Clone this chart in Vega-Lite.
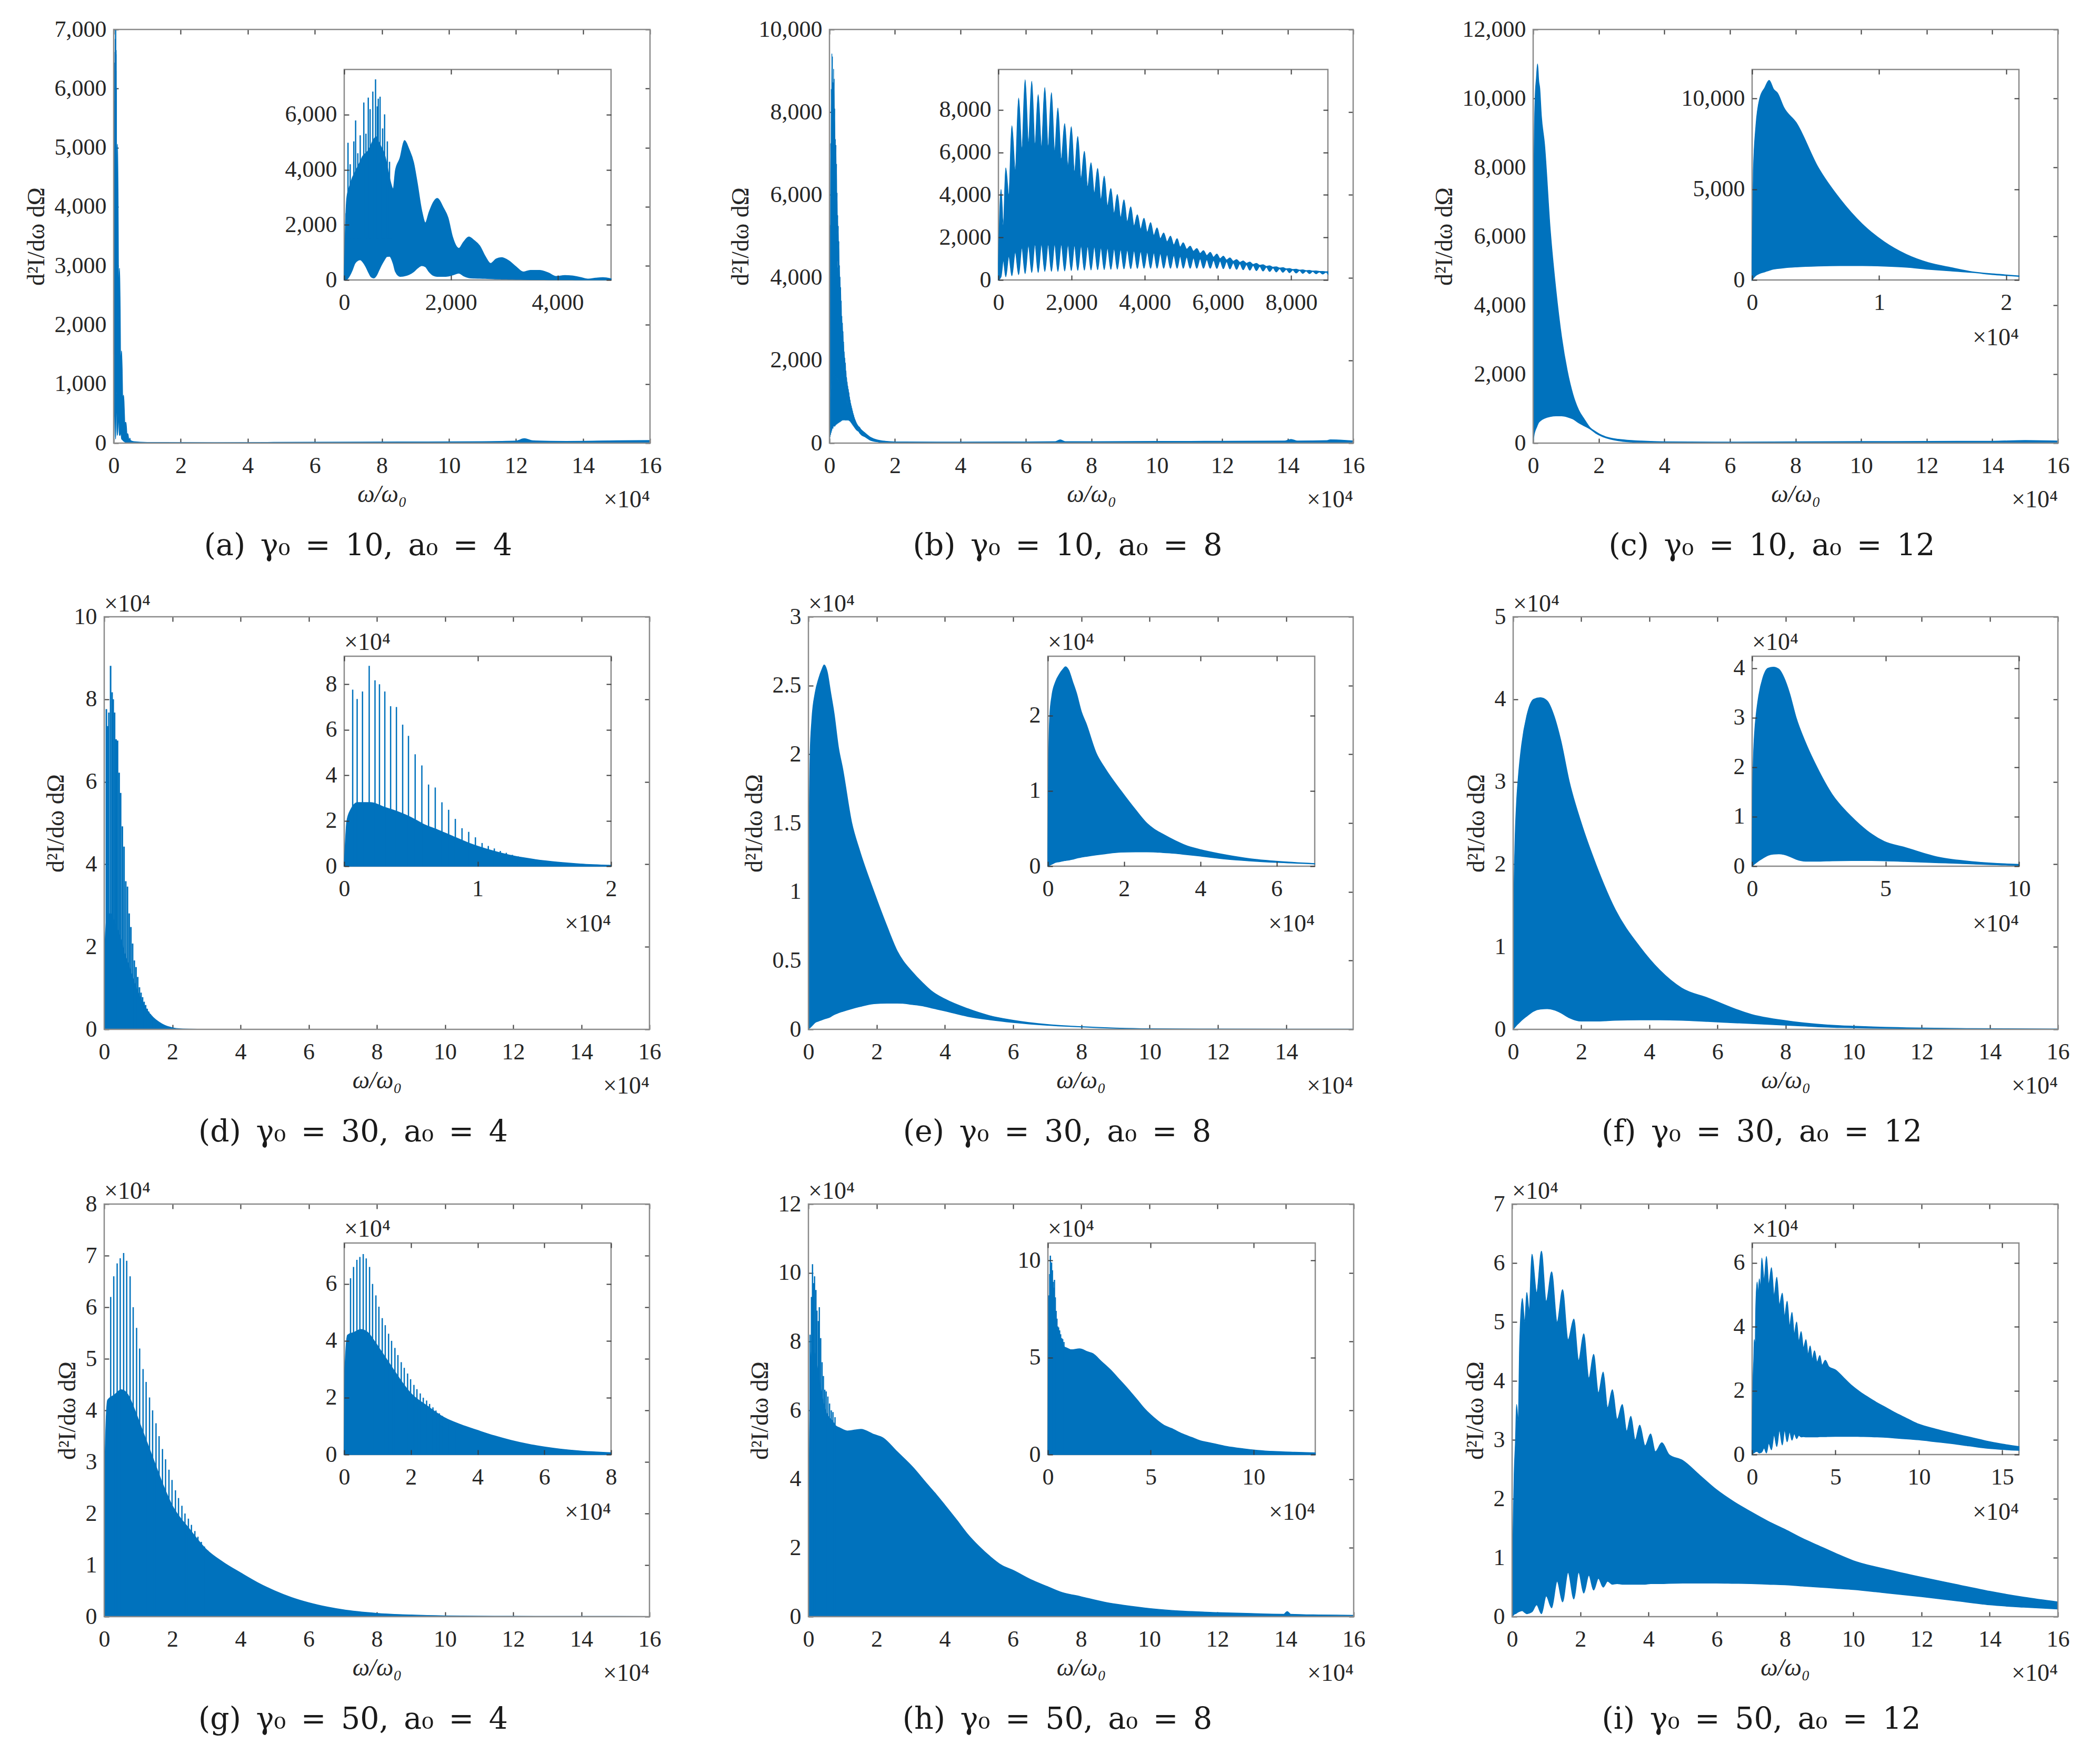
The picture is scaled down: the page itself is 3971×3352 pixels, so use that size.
{
  "$schema": "https://vega.github.io/schema/vega-lite/v6.json",
  "width": 3971,
  "height": 3352,
  "autosize": {"type": "none"},
  "padding": 0,
  "background": "white",
  "config": {
    "font": "Liberation Serif",
    "view": {"stroke": null},
    "axis": {"grid": false, "domain": false, "labelFont": "Liberation Serif", "labelFontSize": 44, "labelColor": "#262626", "titleFont": "Liberation Serif", "titleFontSize": 46, "titleFontWeight": "normal", "titleColor": "#262626", "tickColor": "#3a3a3a", "tickSize": -9, "tickWidth": 2, "labelFlush": false, "labelOverlap": false, "labelPadding": 30, "titlePadding": 10},
    "axisY": {"labelPadding": 23},
    "area": {"stroke": "#0072BD", "strokeWidth": 1.5},
    "text": {"font": "Liberation Serif", "fontSize": 46, "color": "#262626"}
  },
  "data": {"values": [{"k": 0}]},
  "datasets": {
    "a": [
      {"x":0,"hi":0,"lo":0},{"x":20,"hi":1800,"lo":0},{"x":50,"hi":3000,"lo":20},{"x":100,"hi":3400,"lo":150},{"x":150,"hi":3700,"lo":350},{"x":200,"hi":3900,"lo":600},{"x":250,"hi":4100,"lo":700},{"x":300,"hi":4300,"lo":730},{"x":350,"hi":4500,"lo":650},{"x":400,"hi":4600,"lo":500},{"x":450,"hi":4700,"lo":300},{"x":500,"hi":4900,"lo":120},{"x":550,"hi":5100,"lo":70},{"x":600,"hi":5200,"lo":150},{"x":650,"hi":5000,"lo":350},{"x":700,"hi":4800,"lo":550},{"x":750,"hi":4600,"lo":720},{"x":800,"hi":4200,"lo":850},{"x":850,"hi":3700,"lo":860},{"x":917,"hi":3310,"lo":600},{"x":960,"hi":3980,"lo":300},{"x":1045,"hi":4420,"lo":130},{"x":1130,"hi":5060,"lo":150},{"x":1215,"hi":4740,"lo":200},{"x":1300,"hi":4260,"lo":300},{"x":1368,"hi":3530,"lo":420},{"x":1453,"hi":2510,"lo":520},{"x":1521,"hi":2070,"lo":480},{"x":1589,"hi":2450,"lo":300},{"x":1673,"hi":2830,"lo":160},{"x":1741,"hi":2960,"lo":130},{"x":1860,"hi":2610,"lo":130},{"x":1945,"hi":2260,"lo":140},{"x":2030,"hi":1560,"lo":180},{"x":2149,"hi":1145,"lo":250},{"x":2234,"hi":1370,"lo":150},{"x":2335,"hi":1560,"lo":80},{"x":2437,"hi":1430,"lo":65},{"x":2539,"hi":1240,"lo":60},{"x":2641,"hi":860,"lo":55},{"x":2743,"hi":600,"lo":50},{"x":2845,"hi":760,"lo":40},{"x":2946,"hi":810,"lo":35},{"x":3082,"hi":700,"lo":30},{"x":3218,"hi":480,"lo":25},{"x":3354,"hi":290,"lo":20},{"x":3489,"hi":350,"lo":15},{"x":3659,"hi":350,"lo":15},{"x":3829,"hi":255,"lo":10},{"x":3965,"hi":130,"lo":10},{"x":4134,"hi":160,"lo":10},{"x":4270,"hi":150,"lo":8},{"x":4440,"hi":85,"lo":5},{"x":4576,"hi":35,"lo":5},{"x":4711,"hi":65,"lo":5},{"x":4847,"hi":85,"lo":5},{"x":5000,"hi":45,"lo":5},{"x":6000,"hi":25,"lo":0},{"x":10000,"hi":12,"lo":0},{"x":30000,"hi":10,"lo":0},{"x":60000,"hi":15,"lo":0},{"x":90000,"hi":20,"lo":0},{"x":110000,"hi":25,"lo":0},{"x":120000,"hi":35,"lo":0},{"x":122500,"hi":75,"lo":0},{"x":125000,"hi":40,"lo":0},{"x":135000,"hi":30,"lo":0},{"x":150000,"hi":40,"lo":0},{"x":160000,"hi":45,"lo":0}
    ],
    "a_spk": [
      {"x":34,"top":2420,"bot":1500},{"x":71,"top":4980,"bot":1500},{"x":112,"top":4200,"bot":1500},{"x":180,"top":5030,"bot":1500},{"x":214,"top":5790,"bot":1500},{"x":255,"top":4600,"bot":1500},{"x":300,"top":5250,"bot":1500},{"x":367,"top":6440,"bot":1500},{"x":407,"top":5310,"bot":1500},{"x":451,"top":6620,"bot":1500},{"x":485,"top":6200,"bot":1500},{"x":536,"top":6840,"bot":1500},{"x":587,"top":7280,"bot":1500},{"x":620,"top":6300,"bot":1500},{"x":638,"top":6580,"bot":1500},{"x":672,"top":6650,"bot":1500},{"x":720,"top":5500,"bot":1500},{"x":757,"top":6010,"bot":1500},{"x":808,"top":5030,"bot":1500},{"x":849,"top":4290,"bot":1500},{"x":876,"top":3470,"bot":1500}
    ],
    "b": [
      {"x":0,"hi":800,"lo":0},{"x":71,"hi":4260,"lo":150},{"x":135,"hi":2600,"lo":900},{"x":200,"hi":5270,"lo":150},{"x":284,"hi":4000,"lo":1100},{"x":367,"hi":7250,"lo":200},{"x":460,"hi":5200,"lo":1300},{"x":552,"hi":8560,"lo":250},{"x":640,"hi":6200,"lo":1500},{"x":729,"hi":9420,"lo":300},{"x":820,"hi":6500,"lo":1600},{"x":910,"hi":9350,"lo":350},{"x":998,"hi":6400,"lo":1650},{"x":1086,"hi":8720,"lo":350},{"x":1176,"hi":6300,"lo":1650},{"x":1267,"hi":9050,"lo":400},{"x":1358,"hi":6300,"lo":1650},{"x":1448,"hi":8810,"lo":400},{"x":1536,"hi":6100,"lo":1650},{"x":1624,"hi":8090,"lo":400},{"x":1717,"hi":5700,"lo":1650},{"x":1810,"hi":7350,"lo":420},{"x":1900,"hi":5400,"lo":1620},{"x":1990,"hi":7210,"lo":440},{"x":2078,"hi":5100,"lo":1600},{"x":2167,"hi":6750,"lo":450},{"x":2258,"hi":4800,"lo":1580},{"x":2348,"hi":6050,"lo":460},{"x":2438,"hi":4400,"lo":1560},{"x":2529,"hi":5510,"lo":470},{"x":2620,"hi":4100,"lo":1540},{"x":2710,"hi":5250,"lo":480},{"x":2800,"hi":3800,"lo":1500},{"x":2890,"hi":4880,"lo":490},{"x":2980,"hi":3500,"lo":1480},{"x":3071,"hi":4300,"lo":500},{"x":3160,"hi":3150,"lo":1450},{"x":3248,"hi":4020,"lo":510},{"x":3338,"hi":2950,"lo":1420},{"x":3429,"hi":3770,"lo":520},{"x":3520,"hi":2750,"lo":1390},{"x":3614,"hi":3440,"lo":530},{"x":3705,"hi":2550,"lo":1360},{"x":3795,"hi":3070,"lo":540},{"x":3885,"hi":2400,"lo":1330},{"x":3976,"hi":2905,"lo":550},{"x":4066,"hi":2250,"lo":1300},{"x":4157,"hi":2700,"lo":550},{"x":4245,"hi":2100,"lo":1270},{"x":4333,"hi":2450,"lo":550},{"x":4423,"hi":1950,"lo":1230},{"x":4514,"hi":2210,"lo":550},{"x":4607,"hi":1800,"lo":1190},{"x":4700,"hi":2060,"lo":550},{"x":4790,"hi":1650,"lo":1150},{"x":4881,"hi":1940,"lo":550},{"x":4965,"hi":1550,"lo":1110},{"x":5048,"hi":1750,"lo":550},{"x":5143,"hi":1450,"lo":1070},{"x":5238,"hi":1590,"lo":550},{"x":5328,"hi":1350,"lo":1030},{"x":5419,"hi":1480,"lo":550},{"x":5510,"hi":1250,"lo":990},{"x":5600,"hi":1380,"lo":550},{"x":5693,"hi":1150,"lo":950},{"x":5786,"hi":1300,"lo":550},{"x":5876,"hi":1070,"lo":920},{"x":5967,"hi":1220,"lo":540},{"x":6055,"hi":1000,"lo":890},{"x":6143,"hi":1120,"lo":530},{"x":6233,"hi":940,"lo":860},{"x":6324,"hi":1040,"lo":520},{"x":6415,"hi":880,"lo":800},{"x":6505,"hi":960,"lo":500},{"x":6595,"hi":830,"lo":760},{"x":6686,"hi":900,"lo":480},{"x":6776,"hi":780,"lo":720},{"x":6867,"hi":840,"lo":460},{"x":6957,"hi":730,"lo":680},{"x":7048,"hi":780,"lo":440},{"x":7138,"hi":690,"lo":640},{"x":7229,"hi":720,"lo":420},{"x":7320,"hi":640,"lo":600},{"x":7410,"hi":670,"lo":400},{"x":7500,"hi":600,"lo":560},{"x":7591,"hi":620,"lo":380},{"x":7680,"hi":560,"lo":530},{"x":7772,"hi":580,"lo":360},{"x":7862,"hi":525,"lo":500},{"x":7953,"hi":540,"lo":340},{"x":8043,"hi":495,"lo":470},{"x":8134,"hi":505,"lo":325},{"x":8225,"hi":465,"lo":445},{"x":8315,"hi":475,"lo":310},{"x":8405,"hi":440,"lo":420},{"x":8496,"hi":450,"lo":300},{"x":8586,"hi":420,"lo":400},{"x":8677,"hi":425,"lo":290},{"x":8767,"hi":400,"lo":380},{"x":8858,"hi":405,"lo":280},{"x":8950,"hi":385,"lo":365},{"x":9000,"hi":395,"lo":280},{"x":9500,"hi":340,"lo":220},{"x":10900,"hi":240,"lo":150},{"x":12500,"hi":140,"lo":70},{"x":15000,"hi":70,"lo":25},{"x":17000,"hi":45,"lo":0},{"x":20000,"hi":30,"lo":0},{"x":40000,"hi":25,"lo":0},{"x":60000,"hi":30,"lo":0},{"x":69000,"hi":35,"lo":0},{"x":70500,"hi":80,"lo":0},{"x":72000,"hi":35,"lo":0},{"x":100000,"hi":40,"lo":0},{"x":120000,"hi":45,"lo":0},{"x":139000,"hi":50,"lo":0},{"x":141000,"hi":90,"lo":0},{"x":143000,"hi":50,"lo":0},{"x":152000,"hi":60,"lo":0},{"x":153000,"hi":80,"lo":0},{"x":160000,"hi":55,"lo":0}
    ],
    "c": [
      {"x":0,"hi":1000,"lo":0},{"x":100,"hi":6000,"lo":100},{"x":300,"hi":8500,"lo":250},{"x":600,"hi":10000,"lo":360},{"x":1000,"hi":10600,"lo":450},{"x":1340,"hi":11000,"lo":530},{"x":1700,"hi":10500,"lo":600},{"x":2000,"hi":10300,"lo":630},{"x":2500,"hi":9500,"lo":670},{"x":3470,"hi":8670,"lo":720},{"x":5200,"hi":6200,"lo":770},{"x":6930,"hi":4450,"lo":790},{"x":8670,"hi":3080,"lo":790},{"x":10400,"hi":2100,"lo":760},{"x":12130,"hi":1410,"lo":700},{"x":13860,"hi":960,"lo":590},{"x":15600,"hi":690,"lo":500},{"x":17330,"hi":450,"lo":410},{"x":19060,"hi":330,"lo":290},{"x":21000,"hi":225,"lo":195},{"x":23000,"hi":160,"lo":130},{"x":26000,"hi":110,"lo":70},{"x":30000,"hi":75,"lo":30},{"x":33000,"hi":60,"lo":10},{"x":40000,"hi":40,"lo":0},{"x":60000,"hi":30,"lo":0},{"x":80000,"hi":40,"lo":0},{"x":100000,"hi":45,"lo":0},{"x":120000,"hi":50,"lo":0},{"x":140000,"hi":55,"lo":0},{"x":150000,"hi":75,"lo":0},{"x":160000,"hi":60,"lo":0}
    ],
    "d": [
      {"x":0,"hi":0,"lo":0},{"x":200,"hi":20000,"lo":0},{"x":500,"hi":25000,"lo":0},{"x":1000,"hi":28000,"lo":0},{"x":2000,"hi":28000,"lo":0},{"x":3000,"hi":26000,"lo":0},{"x":4000,"hi":24000,"lo":0},{"x":5000,"hi":21500,"lo":0},{"x":6000,"hi":18300,"lo":0},{"x":7000,"hi":16000,"lo":0},{"x":8000,"hi":13500,"lo":0},{"x":9330,"hi":10200,"lo":0},{"x":11000,"hi":7000,"lo":0},{"x":12700,"hi":4500,"lo":0},{"x":14350,"hi":2900,"lo":0},{"x":16000,"hi":1800,"lo":0},{"x":17690,"hi":1000,"lo":0},{"x":20000,"hi":400,"lo":0},{"x":22000,"hi":150,"lo":0},{"x":25000,"hi":60,"lo":0},{"x":30000,"hi":20,"lo":0},{"x":50000,"hi":8,"lo":0},{"x":160000,"hi":5,"lo":0}
    ],
    "d_spk": [
      {"x":635,"top":77600,"bot":0},{"x":970,"top":73500,"bot":0},{"x":1371,"top":76800,"bot":0},{"x":1873,"top":88100,"bot":0},{"x":2308,"top":81700,"bot":0},{"x":2642,"top":80000,"bot":0},{"x":3043,"top":76800,"bot":0},{"x":3478,"top":70300,"bot":0},{"x":3913,"top":70000,"bot":0},{"x":4381,"top":62200,"bot":0},{"x":4816,"top":57300,"bot":0},{"x":5318,"top":49200,"bot":0},{"x":5819,"top":44300,"bot":0},{"x":6321,"top":35900,"bot":0},{"x":6823,"top":34600,"bot":0},{"x":7324,"top":28100,"bot":0},{"x":7826,"top":24800,"bot":0},{"x":8328,"top":20800,"bot":0},{"x":8829,"top":16700,"bot":0},{"x":9331,"top":15100,"bot":0},{"x":9833,"top":12700,"bot":0},{"x":10334,"top":10200,"bot":0},{"x":10800,"top":8900,"bot":0},{"x":11250,"top":7800,"bot":0},{"x":11700,"top":6700,"bot":0},{"x":12150,"top":5900,"bot":0},{"x":12600,"top":5000,"bot":0},{"x":13050,"top":4300,"bot":0},{"x":13500,"top":3700,"bot":0},{"x":13950,"top":3200,"bot":0},{"x":14400,"top":2800,"bot":0},{"x":14850,"top":2400,"bot":0},{"x":15300,"top":2100,"bot":0},{"x":15750,"top":1800,"bot":0},{"x":16200,"top":1500,"bot":0},{"x":16650,"top":1300,"bot":0},{"x":17100,"top":1100,"bot":0},{"x":17550,"top":1000,"bot":0},{"x":18000,"top":850,"bot":0},{"x":18450,"top":750,"bot":0},{"x":18900,"top":650,"bot":0},{"x":19350,"top":550,"bot":0},{"x":19800,"top":500,"bot":0}
    ],
    "e": [
      {"x":0,"hi":2000,"lo":0},{"x":200,"hi":14000,"lo":60},{"x":500,"hi":20000,"lo":130},{"x":1000,"hi":22500,"lo":250},{"x":2000,"hi":24500,"lo":500},{"x":3000,"hi":25500,"lo":600},{"x":4000,"hi":26200,"lo":700},{"x":4600,"hi":26500,"lo":750},{"x":5500,"hi":26000,"lo":820},{"x":6500,"hi":24500,"lo":920},{"x":7500,"hi":23000,"lo":1070},{"x":8800,"hi":20500,"lo":1200},{"x":10000,"hi":19000,"lo":1300},{"x":12700,"hi":15000,"lo":1500},{"x":15000,"hi":13000,"lo":1650},{"x":19200,"hi":10000,"lo":1870},{"x":23000,"hi":7500,"lo":1900},{"x":26000,"hi":5700,"lo":1900},{"x":27700,"hi":5000,"lo":1890},{"x":30000,"hi":4300,"lo":1820},{"x":33600,"hi":3350,"lo":1700},{"x":36000,"hi":2800,"lo":1560},{"x":40000,"hi":2200,"lo":1340},{"x":46700,"hi":1500,"lo":940},{"x":53000,"hi":1000,"lo":700},{"x":60000,"hi":660,"lo":500},{"x":70000,"hi":350,"lo":300},{"x":80000,"hi":200,"lo":170},{"x":90000,"hi":100,"lo":80},{"x":100000,"hi":50,"lo":40},{"x":120000,"hi":30,"lo":20},{"x":159600,"hi":20,"lo":10}
    ],
    "f": [
      {"x":0,"hi":0,"lo":0},{"x":200,"hi":15000,"lo":100},{"x":500,"hi":22000,"lo":250},{"x":1000,"hi":27500,"lo":500},{"x":1500,"hi":30500,"lo":700},{"x":2500,"hi":34500,"lo":1100},{"x":4000,"hi":38000,"lo":1600},{"x":6000,"hi":40000,"lo":2200},{"x":8000,"hi":40200,"lo":2450},{"x":10000,"hi":39800,"lo":2500},{"x":12000,"hi":38000,"lo":2350},{"x":14000,"hi":35000,"lo":2000},{"x":16500,"hi":30000,"lo":1400},{"x":20000,"hi":25000,"lo":1000},{"x":24300,"hi":20000,"lo":1000},{"x":30000,"hi":14500,"lo":1100},{"x":37200,"hi":10000,"lo":1150},{"x":43000,"hi":7200,"lo":1150},{"x":49500,"hi":5000,"lo":1100},{"x":57200,"hi":3800,"lo":950},{"x":70000,"hi":1800,"lo":700},{"x":83000,"hi":900,"lo":450},{"x":96000,"hi":450,"lo":220},{"x":100000,"hi":380,"lo":190},{"x":109000,"hi":250,"lo":120},{"x":135000,"hi":100,"lo":50},{"x":160000,"hi":50,"lo":25}
    ],
    "g": [
      {"x":0,"hi":0,"lo":0},{"x":200,"hi":30000,"lo":0},{"x":1000,"hi":42000,"lo":0},{"x":3000,"hi":43000,"lo":0},{"x":5000,"hi":44000,"lo":0},{"x":7000,"hi":43000,"lo":0},{"x":9000,"hi":40000,"lo":0},{"x":11000,"hi":36500,"lo":0},{"x":13000,"hi":33000,"lo":0},{"x":15000,"hi":29500,"lo":0},{"x":17000,"hi":26000,"lo":0},{"x":20000,"hi":21500,"lo":0},{"x":25000,"hi":17000,"lo":0},{"x":30000,"hi":13000,"lo":0},{"x":35000,"hi":10500,"lo":0},{"x":40000,"hi":8500,"lo":0},{"x":45000,"hi":6600,"lo":0},{"x":50000,"hi":5000,"lo":0},{"x":55000,"hi":3700,"lo":0},{"x":60000,"hi":2700,"lo":0},{"x":70000,"hi":1350,"lo":0},{"x":80000,"hi":650,"lo":0},{"x":90000,"hi":320,"lo":0},{"x":100000,"hi":160,"lo":0},{"x":120000,"hi":70,"lo":0},{"x":140000,"hi":45,"lo":0},{"x":160000,"hi":35,"lo":0}
    ],
    "g_spk": [
      {"x":900,"top":31000,"bot":0},{"x":1900,"top":62000,"bot":0},{"x":2800,"top":66000,"bot":0},{"x":3800,"top":68500,"bot":0},{"x":4700,"top":69500,"bot":0},{"x":5700,"top":70500,"bot":0},{"x":6600,"top":69000,"bot":0},{"x":7600,"top":66000,"bot":0},{"x":8500,"top":60000,"bot":0},{"x":9500,"top":56000,"bot":0},{"x":10400,"top":52000,"bot":0},{"x":11400,"top":48000,"bot":0},{"x":12300,"top":45500,"bot":0},{"x":13300,"top":42500,"bot":0},{"x":14200,"top":40000,"bot":0},{"x":15200,"top":37500,"bot":0},{"x":16100,"top":35000,"bot":0},{"x":17100,"top":32500,"bot":0},{"x":18000,"top":30500,"bot":0},{"x":19000,"top":28500,"bot":0},{"x":19900,"top":26500,"bot":0},{"x":20900,"top":24500,"bot":0},{"x":21800,"top":23000,"bot":0},{"x":22800,"top":21500,"bot":0},{"x":23700,"top":20000,"bot":0},{"x":24700,"top":19000,"bot":0},{"x":25600,"top":17800,"bot":0},{"x":26600,"top":16600,"bot":0},{"x":27500,"top":15500,"bot":0},{"x":28500,"top":14500,"bot":0},{"x":29400,"top":13600,"bot":0},{"x":30400,"top":12800,"bot":0},{"x":31300,"top":12000,"bot":0},{"x":32300,"top":11200,"bot":0},{"x":33200,"top":10600,"bot":0}
    ],
    "h": [
      {"x":0,"hi":0,"lo":0},{"x":200,"hi":40000,"lo":0},{"x":500,"hi":70000,"lo":0},{"x":1000,"hi":78000,"lo":0},{"x":2000,"hi":76000,"lo":0},{"x":3000,"hi":70000,"lo":0},{"x":4000,"hi":64000,"lo":0},{"x":5000,"hi":60000,"lo":0},{"x":6000,"hi":58000,"lo":0},{"x":7000,"hi":57000,"lo":0},{"x":8000,"hi":55500,"lo":0},{"x":9000,"hi":55000,"lo":0},{"x":11400,"hi":54000,"lo":0},{"x":15400,"hi":54500,"lo":0},{"x":19200,"hi":53000,"lo":0},{"x":21900,"hi":52000,"lo":0},{"x":26000,"hi":48000,"lo":0},{"x":30600,"hi":43500,"lo":0},{"x":34900,"hi":38500,"lo":0},{"x":37100,"hi":36000,"lo":0},{"x":40000,"hi":32500,"lo":0},{"x":43600,"hi":28000,"lo":0},{"x":46700,"hi":24000,"lo":0},{"x":50000,"hi":20500,"lo":0},{"x":53300,"hi":17500,"lo":0},{"x":56600,"hi":15000,"lo":0},{"x":60000,"hi":13500,"lo":0},{"x":65200,"hi":10800,"lo":0},{"x":70000,"hi":8800,"lo":0},{"x":73900,"hi":7200,"lo":0},{"x":80000,"hi":5800,"lo":0},{"x":86900,"hi":4200,"lo":0},{"x":95000,"hi":3000,"lo":0},{"x":102000,"hi":2200,"lo":0},{"x":110000,"hi":1600,"lo":0},{"x":120000,"hi":1200,"lo":0},{"x":130000,"hi":900,"lo":0},{"x":139500,"hi":700,"lo":0},{"x":140500,"hi":1500,"lo":0},{"x":141500,"hi":700,"lo":0},{"x":150000,"hi":500,"lo":0},{"x":160000,"hi":400,"lo":0}
    ],
    "h_spk": [
      {"x":500,"top":82000,"bot":0},{"x":900,"top":93000,"bot":0},{"x":1200,"top":102500,"bot":0},{"x":1500,"top":97000,"bot":0},{"x":1800,"top":99000,"bot":0},{"x":2200,"top":95000,"bot":0},{"x":2500,"top":89000,"bot":0},{"x":2900,"top":86000,"bot":0},{"x":3200,"top":90000,"bot":0},{"x":3600,"top":81000,"bot":0},{"x":4000,"top":74000,"bot":0},{"x":4400,"top":70000,"bot":0},{"x":4800,"top":66000,"bot":0},{"x":5200,"top":65500,"bot":0},{"x":5700,"top":64000,"bot":0},{"x":6200,"top":62000,"bot":0},{"x":6700,"top":60000,"bot":0},{"x":7200,"top":59500,"bot":0},{"x":7800,"top":58000,"bot":0}
    ],
    "i": [
      {"x":0,"hi":3000,"lo":0},{"x":300,"hi":15000,"lo":200},{"x":600,"hi":24000,"lo":400},{"x":1000,"hi":30000,"lo":500},{"x":1300,"hi":36000,"lo":600},{"x":1800,"hi":33000,"lo":800},{"x":2200,"hi":46000,"lo":900},{"x":3000,"hi":54000,"lo":1000},{"x":3700,"hi":50000,"lo":700},{"x":4300,"hi":55000,"lo":500},{"x":5000,"hi":52000,"lo":600},{"x":5800,"hi":61500,"lo":800},{"x":7200,"hi":55000,"lo":2000},{"x":8600,"hi":62000,"lo":500},{"x":10000,"hi":53500,"lo":3500},{"x":11600,"hi":58500,"lo":1500},{"x":13200,"hi":50000,"lo":6000},{"x":14800,"hi":55500,"lo":2500},{"x":16400,"hi":47000,"lo":7500},{"x":18100,"hi":50500,"lo":3000},{"x":19500,"hi":43500,"lo":7500},{"x":21000,"hi":48000,"lo":4000},{"x":22500,"hi":40500,"lo":7000},{"x":23900,"hi":44500,"lo":4500},{"x":25300,"hi":38000,"lo":6500},{"x":26700,"hi":41500,"lo":5000},{"x":28000,"hi":35500,"lo":6000},{"x":29400,"hi":38500,"lo":5500},{"x":30800,"hi":33500,"lo":5600},{"x":32300,"hi":36000,"lo":5500},{"x":33600,"hi":31500,"lo":5500},{"x":34800,"hi":34000,"lo":5500},{"x":36100,"hi":30000,"lo":5500},{"x":37400,"hi":32500,"lo":5500},{"x":39000,"hi":29000,"lo":5500},{"x":40600,"hi":31000,"lo":5600},{"x":42000,"hi":28000,"lo":5600},{"x":43900,"hi":29500,"lo":5600},{"x":46000,"hi":27500,"lo":5650},{"x":50000,"hi":26500,"lo":5700},{"x":55000,"hi":24000,"lo":5700},{"x":60000,"hi":21500,"lo":5700},{"x":65000,"hi":19500,"lo":5650},{"x":70000,"hi":17800,"lo":5600},{"x":75000,"hi":16200,"lo":5500},{"x":80000,"hi":14800,"lo":5400},{"x":85000,"hi":13300,"lo":5200},{"x":90000,"hi":12000,"lo":5000},{"x":95000,"hi":10700,"lo":4800},{"x":100000,"hi":9500,"lo":4600},{"x":110000,"hi":8000,"lo":4000},{"x":120000,"hi":6700,"lo":3400},{"x":130000,"hi":5500,"lo":2700},{"x":140000,"hi":4300,"lo":2000},{"x":150000,"hi":3300,"lo":1600},{"x":160000,"hi":2500,"lo":1300}
    ]
  },
  "resolve": {"scale": {"x": "independent", "y": "independent"}, "axis": {"x": "independent", "y": "independent"}},
  "layer": [
    {"data": {"name": "a"}, "mark": {"type": "area", "color": "#0072BD", "stroke": "#0072BD", "strokeWidth": 1.5, "interpolate": "monotone"},
     "encoding": {
       "x": {"field": "x", "type": "quantitative", "scale": {"domain": [0, 160000], "range": [216, 1235], "nice": false}, "axis": {"orient": "bottom", "offset": -2510, "values": [0,20000,40000,60000,80000,100000,120000,140000,160000], "labelExpr": "datum.value / 10000", "title": "ω/ω₀", "titleFontStyle": "italic"}},
       "y": {"field": "hi", "type": "quantitative", "scale": {"domain": [0, 7000], "range": [842, 56], "nice": false, "clamp": true}, "axis": {"orient": "left", "offset": -216, "values": [0,1000,2000,3000,4000,5000,6000,7000], "labelExpr": "format(datum.value, ',')", "title": "d²I/dω dΩ"}},
       "y2": {"field": "lo"}}},
    {"data": {"name": "a_spk"}, "mark": {"type": "rule", "color": "#0072BD", "strokeWidth": 2.5},
     "encoding": {
       "x": {"field": "x", "type": "quantitative", "scale": {"domain": [0, 160000], "range": [216, 1235], "nice": false}, "axis": null},
       "y": {"field": "top", "type": "quantitative", "scale": {"domain": [0, 7000], "range": [842, 56], "nice": false, "clamp": true}, "axis": null},
       "y2": {"field": "bot"}}},
    {"mark": {"type": "rect", "fillOpacity": 0, "stroke": "#8a8a8a", "strokeWidth": 2.5},
     "encoding": {
       "x": {"datum": 0, "type": "quantitative", "scale": {"domain": [0, 160000], "range": [216, 1235], "nice": false}, "axis": {"orient": "top", "offset": -56, "values": [0,20000,40000,60000,80000,100000,120000,140000,160000], "labels": false, "title": null}},
       "x2": {"datum": 160000},
       "y": {"datum": 0, "type": "quantitative", "scale": {"domain": [0, 7000], "range": [842, 56], "nice": false}, "axis": {"orient": "right", "offset": -2736, "values": [0,1000,2000,3000,4000,5000,6000,7000], "labels": false, "title": null}},
       "y2": {"datum": 7000}}},
    {"mark": {"type": "text", "text": "×10⁴", "font": "Liberation Serif", "fontSize": 46, "align": "right", "baseline": "middle", "dy": 108},
     "encoding": {
       "x": {"datum": 160000, "type": "quantitative", "scale": {"domain": [0, 160000], "range": [216, 1235], "nice": false}, "axis": null},
       "y": {"datum": 0, "type": "quantitative", "scale": {"domain": [0, 7000], "range": [842, 56], "nice": false}, "axis": null}}},
    {"mark": {"type": "text", "text": "(a)\u2002γ₀\u2002=\u200210,\u2002a₀\u2002=\u20024", "font": "DejaVu Serif", "fontSize": 57, "color": "#1a1a1a", "align": "center", "baseline": "middle", "dx": -45, "dy": 196},
     "encoding": {
       "x": {"datum": 80000, "type": "quantitative", "scale": {"domain": [0, 160000], "range": [216, 1235], "nice": false}, "axis": null},
       "y": {"datum": 0, "type": "quantitative", "scale": {"domain": [0, 7000], "range": [842, 56], "nice": false}, "axis": null}}},
    {"mark": {"type": "rect", "fill": "white", "stroke": "#8a8a8a", "strokeWidth": 2.5},
     "encoding": {
       "x": {"datum": 0, "type": "quantitative", "scale": {"domain": [0, 5000], "range": [654, 1161], "nice": false}, "axis": {"orient": "bottom", "offset": -2820, "values": [0,2000,4000], "labelExpr": "format(datum.value, ',')", "title": null, "zindex": 1}},
       "x2": {"datum": 5000},
       "y": {"datum": 0, "type": "quantitative", "scale": {"domain": [0, 7640], "range": [532, 132], "nice": false}, "axis": {"orient": "left", "offset": -654, "values": [0,2000,4000,6000], "labelExpr": "format(datum.value, ',')", "title": null, "zindex": 1}},
       "y2": {"datum": 7640}}},
    {"data": {"name": "a"}, "transform": [{"filter": "datum.x <= 5000"}], "mark": {"type": "area", "color": "#0072BD", "stroke": "#0072BD", "strokeWidth": 1.5, "interpolate": "monotone"},
     "encoding": {
       "x": {"field": "x", "type": "quantitative", "scale": {"domain": [0, 5000], "range": [654, 1161], "nice": false}, "axis": {"orient": "top", "offset": -132, "values": [0,2000,4000], "labels": false, "title": null, "zindex": 1}},
       "y": {"field": "hi", "type": "quantitative", "scale": {"domain": [0, 7640], "range": [532, 132], "nice": false}, "axis": {"orient": "right", "offset": -2810, "values": [0,2000,4000,6000], "labels": false, "title": null, "zindex": 1}},
       "y2": {"field": "lo"}}},
    {"data": {"name": "a_spk"}, "mark": {"type": "rule", "color": "#0072BD", "strokeWidth": 2.5},
     "encoding": {
       "x": {"field": "x", "type": "quantitative", "scale": {"domain": [0, 5000], "range": [654, 1161], "nice": false}, "axis": null},
       "y": {"field": "top", "type": "quantitative", "scale": {"domain": [0, 7640], "range": [532, 132], "nice": false}, "axis": null},
       "y2": {"field": "bot"}}},

    {"data": {"name": "b"}, "mark": {"type": "area", "color": "#0072BD", "stroke": "#0072BD", "strokeWidth": 1.5, "interpolate": "monotone"},
     "encoding": {
       "x": {"field": "x", "type": "quantitative", "scale": {"domain": [0, 160000], "range": [1576, 2571], "nice": false}, "axis": {"orient": "bottom", "offset": -2510, "values": [0,20000,40000,60000,80000,100000,120000,140000,160000], "labelExpr": "datum.value / 10000", "title": "ω/ω₀", "titleFontStyle": "italic"}},
       "y": {"field": "hi", "type": "quantitative", "scale": {"domain": [0, 10000], "range": [842, 56], "nice": false, "clamp": true}, "axis": {"orient": "left", "offset": -1576, "values": [0,2000,4000,6000,8000,10000], "labelExpr": "format(datum.value, ',')", "title": "d²I/dω dΩ"}},
       "y2": {"field": "lo"}}},
    {"mark": {"type": "rect", "fillOpacity": 0, "stroke": "#8a8a8a", "strokeWidth": 2.5},
     "encoding": {
       "x": {"datum": 0, "type": "quantitative", "scale": {"domain": [0, 160000], "range": [1576, 2571], "nice": false}, "axis": {"orient": "top", "offset": -56, "values": [0,20000,40000,60000,80000,100000,120000,140000,160000], "labels": false, "title": null}},
       "x2": {"datum": 160000},
       "y": {"datum": 0, "type": "quantitative", "scale": {"domain": [0, 10000], "range": [842, 56], "nice": false}, "axis": {"orient": "right", "offset": -1400, "values": [0,2000,4000,6000,8000,10000], "labels": false, "title": null}},
       "y2": {"datum": 10000}}},
    {"mark": {"type": "text", "text": "×10⁴", "font": "Liberation Serif", "fontSize": 46, "align": "right", "baseline": "middle", "dy": 108},
     "encoding": {
       "x": {"datum": 160000, "type": "quantitative", "scale": {"domain": [0, 160000], "range": [1576, 2571], "nice": false}, "axis": null},
       "y": {"datum": 0, "type": "quantitative", "scale": {"domain": [0, 10000], "range": [842, 56], "nice": false}, "axis": null}}},
    {"mark": {"type": "text", "text": "(b)\u2002γ₀\u2002=\u200210,\u2002a₀\u2002=\u20028", "font": "DejaVu Serif", "fontSize": 57, "color": "#1a1a1a", "align": "center", "baseline": "middle", "dx": -45, "dy": 196},
     "encoding": {
       "x": {"datum": 80000, "type": "quantitative", "scale": {"domain": [0, 160000], "range": [1576, 2571], "nice": false}, "axis": null},
       "y": {"datum": 0, "type": "quantitative", "scale": {"domain": [0, 10000], "range": [842, 56], "nice": false}, "axis": null}}},
    {"mark": {"type": "rect", "fill": "white", "stroke": "#8a8a8a", "strokeWidth": 2.5},
     "encoding": {
       "x": {"datum": 0, "type": "quantitative", "scale": {"domain": [0, 9000], "range": [1897, 2523], "nice": false}, "axis": {"orient": "bottom", "offset": -2820, "values": [0,2000,4000,6000,8000], "labelExpr": "format(datum.value, ',')", "title": null, "zindex": 1}},
       "x2": {"datum": 9000},
       "y": {"datum": 0, "type": "quantitative", "scale": {"domain": [0, 9900], "range": [532, 132], "nice": false}, "axis": {"orient": "left", "offset": -1897, "values": [0,2000,4000,6000,8000], "labelExpr": "format(datum.value, ',')", "title": null, "zindex": 1}},
       "y2": {"datum": 9900}}},
    {"data": {"name": "b"}, "transform": [{"filter": "datum.x <= 9000"}], "mark": {"type": "area", "color": "#0072BD", "stroke": "#0072BD", "strokeWidth": 1.5, "interpolate": "monotone"},
     "encoding": {
       "x": {"field": "x", "type": "quantitative", "scale": {"domain": [0, 9000], "range": [1897, 2523], "nice": false}, "axis": {"orient": "top", "offset": -132, "values": [0,2000,4000,6000,8000], "labels": false, "title": null, "zindex": 1}},
       "y": {"field": "hi", "type": "quantitative", "scale": {"domain": [0, 9900], "range": [532, 132], "nice": false}, "axis": {"orient": "right", "offset": -1448, "values": [0,2000,4000,6000,8000], "labels": false, "title": null, "zindex": 1}},
       "y2": {"field": "lo"}}},

    {"data": {"name": "c"}, "mark": {"type": "area", "color": "#0072BD", "stroke": "#0072BD", "strokeWidth": 1.5, "interpolate": "monotone"},
     "encoding": {
       "x": {"field": "x", "type": "quantitative", "scale": {"domain": [0, 160000], "range": [2913, 3910], "nice": false}, "axis": {"orient": "bottom", "offset": -2510, "values": [0,20000,40000,60000,80000,100000,120000,140000,160000], "labelExpr": "datum.value / 10000", "title": "ω/ω₀", "titleFontStyle": "italic"}},
       "y": {"field": "hi", "type": "quantitative", "scale": {"domain": [0, 12000], "range": [842, 56], "nice": false, "clamp": true}, "axis": {"orient": "left", "offset": -2913, "values": [0,2000,4000,6000,8000,10000,12000], "labelExpr": "format(datum.value, ',')", "title": "d²I/dω dΩ"}},
       "y2": {"field": "lo"}}},
    {"mark": {"type": "rect", "fillOpacity": 0, "stroke": "#8a8a8a", "strokeWidth": 2.5},
     "encoding": {
       "x": {"datum": 0, "type": "quantitative", "scale": {"domain": [0, 160000], "range": [2913, 3910], "nice": false}, "axis": {"orient": "top", "offset": -56, "values": [0,20000,40000,60000,80000,100000,120000,140000,160000], "labels": false, "title": null}},
       "x2": {"datum": 160000},
       "y": {"datum": 0, "type": "quantitative", "scale": {"domain": [0, 12000], "range": [842, 56], "nice": false}, "axis": {"orient": "right", "offset": -61, "values": [0,2000,4000,6000,8000,10000,12000], "labels": false, "title": null}},
       "y2": {"datum": 12000}}},
    {"mark": {"type": "text", "text": "×10⁴", "font": "Liberation Serif", "fontSize": 46, "align": "right", "baseline": "middle", "dy": 108},
     "encoding": {
       "x": {"datum": 160000, "type": "quantitative", "scale": {"domain": [0, 160000], "range": [2913, 3910], "nice": false}, "axis": null},
       "y": {"datum": 0, "type": "quantitative", "scale": {"domain": [0, 12000], "range": [842, 56], "nice": false}, "axis": null}}},
    {"mark": {"type": "text", "text": "(c)\u2002γ₀\u2002=\u200210,\u2002a₀\u2002=\u200212", "font": "DejaVu Serif", "fontSize": 57, "color": "#1a1a1a", "align": "center", "baseline": "middle", "dx": -45, "dy": 196},
     "encoding": {
       "x": {"datum": 80000, "type": "quantitative", "scale": {"domain": [0, 160000], "range": [2913, 3910], "nice": false}, "axis": null},
       "y": {"datum": 0, "type": "quantitative", "scale": {"domain": [0, 12000], "range": [842, 56], "nice": false}, "axis": null}}},
    {"mark": {"type": "rect", "fill": "white", "stroke": "#8a8a8a", "strokeWidth": 2.5},
     "encoding": {
       "x": {"datum": 0, "type": "quantitative", "scale": {"domain": [0, 21000], "range": [3329, 3836], "nice": false}, "axis": {"orient": "bottom", "offset": -2820, "values": [0,10000,20000], "labelExpr": "datum.value / 10000", "title": null, "zindex": 1}},
       "x2": {"datum": 21000},
       "y": {"datum": 0, "type": "quantitative", "scale": {"domain": [0, 11600], "range": [532, 132], "nice": false}, "axis": {"orient": "left", "offset": -3329, "values": [0,5000,10000], "labelExpr": "format(datum.value, ',')", "title": null, "zindex": 1}},
       "y2": {"datum": 11600}}},
    {"data": {"name": "c"}, "transform": [{"filter": "datum.x <= 21000"}], "mark": {"type": "area", "color": "#0072BD", "stroke": "#0072BD", "strokeWidth": 1.5, "interpolate": "monotone"},
     "encoding": {
       "x": {"field": "x", "type": "quantitative", "scale": {"domain": [0, 21000], "range": [3329, 3836], "nice": false}, "axis": {"orient": "top", "offset": -132, "values": [0,10000,20000], "labels": false, "title": null, "zindex": 1}},
       "y": {"field": "hi", "type": "quantitative", "scale": {"domain": [0, 11600], "range": [532, 132], "nice": false}, "axis": {"orient": "right", "offset": -135, "values": [0,5000,10000], "labels": false, "title": null, "zindex": 1}},
       "y2": {"field": "lo"}}},
    {"mark": {"type": "text", "text": "×10⁴", "font": "Liberation Serif", "fontSize": 46, "align": "right", "baseline": "middle", "dy": 110},
     "encoding": {
       "x": {"datum": 21000, "type": "quantitative", "scale": {"domain": [0, 21000], "range": [3329, 3836], "nice": false}, "axis": null},
       "y": {"datum": 0, "type": "quantitative", "scale": {"domain": [0, 11600], "range": [532, 132], "nice": false}, "axis": null}}},

    {"data": {"name": "d"}, "mark": {"type": "area", "color": "#0072BD", "stroke": "#0072BD", "strokeWidth": 1.5, "interpolate": "monotone"},
     "encoding": {
       "x": {"field": "x", "type": "quantitative", "scale": {"domain": [0, 160000], "range": [198, 1234], "nice": false}, "axis": {"orient": "bottom", "offset": -1396, "values": [0,20000,40000,60000,80000,100000,120000,140000,160000], "labelExpr": "datum.value / 10000", "title": "ω/ω₀", "titleFontStyle": "italic"}},
       "y": {"field": "hi", "type": "quantitative", "scale": {"domain": [0, 100000], "range": [1956, 1172], "nice": false, "clamp": true}, "axis": {"orient": "left", "offset": -198, "values": [0,20000,40000,60000,80000,100000], "labelExpr": "datum.value / 10000", "title": "d²I/dω dΩ"}},
       "y2": {"field": "lo"}}},
    {"data": {"name": "d_spk"}, "mark": {"type": "rule", "color": "#0072BD", "strokeWidth": 3},
     "encoding": {
       "x": {"field": "x", "type": "quantitative", "scale": {"domain": [0, 160000], "range": [198, 1234], "nice": false}, "axis": null},
       "y": {"field": "top", "type": "quantitative", "scale": {"domain": [0, 100000], "range": [1956, 1172], "nice": false, "clamp": true}, "axis": null},
       "y2": {"field": "bot"}}},
    {"mark": {"type": "rect", "fillOpacity": 0, "stroke": "#8a8a8a", "strokeWidth": 2.5},
     "encoding": {
       "x": {"datum": 0, "type": "quantitative", "scale": {"domain": [0, 160000], "range": [198, 1234], "nice": false}, "axis": {"orient": "top", "offset": -1172, "values": [0,20000,40000,60000,80000,100000,120000,140000,160000], "labels": false, "title": null}},
       "x2": {"datum": 160000},
       "y": {"datum": 0, "type": "quantitative", "scale": {"domain": [0, 100000], "range": [1956, 1172], "nice": false}, "axis": {"orient": "right", "offset": -2737, "values": [0,20000,40000,60000,80000,100000], "labels": false, "title": null}},
       "y2": {"datum": 100000}}},
    {"mark": {"type": "text", "text": "×10⁴", "font": "Liberation Serif", "fontSize": 46, "align": "right", "baseline": "middle", "dy": 108},
     "encoding": {
       "x": {"datum": 160000, "type": "quantitative", "scale": {"domain": [0, 160000], "range": [198, 1234], "nice": false}, "axis": null},
       "y": {"datum": 0, "type": "quantitative", "scale": {"domain": [0, 100000], "range": [1956, 1172], "nice": false}, "axis": null}}},
    {"mark": {"type": "text", "text": "×10⁴", "font": "Liberation Serif", "fontSize": 46, "align": "left", "baseline": "middle", "dy": -24},
     "encoding": {
       "x": {"datum": 0, "type": "quantitative", "scale": {"domain": [0, 160000], "range": [198, 1234], "nice": false}, "axis": null},
       "y": {"datum": 100000, "type": "quantitative", "scale": {"domain": [0, 100000], "range": [1956, 1172], "nice": false}, "axis": null}}},
    {"mark": {"type": "text", "text": "(d)\u2002γ₀\u2002=\u200230,\u2002a₀\u2002=\u20024", "font": "DejaVu Serif", "fontSize": 57, "color": "#1a1a1a", "align": "center", "baseline": "middle", "dx": -45, "dy": 196},
     "encoding": {
       "x": {"datum": 80000, "type": "quantitative", "scale": {"domain": [0, 160000], "range": [198, 1234], "nice": false}, "axis": null},
       "y": {"datum": 0, "type": "quantitative", "scale": {"domain": [0, 100000], "range": [1956, 1172], "nice": false}, "axis": null}}},
    {"mark": {"type": "rect", "fill": "white", "stroke": "#8a8a8a", "strokeWidth": 2.5},
     "encoding": {
       "x": {"datum": 0, "type": "quantitative", "scale": {"domain": [0, 20000], "range": [654, 1161], "nice": false}, "axis": {"orient": "bottom", "offset": -1706, "values": [0,10000,20000], "labelExpr": "datum.value / 10000", "title": null, "zindex": 1}},
       "x2": {"datum": 20000},
       "y": {"datum": 0, "type": "quantitative", "scale": {"domain": [0, 92300], "range": [1646, 1247], "nice": false}, "axis": {"orient": "left", "offset": -654, "values": [0,20000,40000,60000,80000], "labelExpr": "datum.value / 10000", "title": null, "zindex": 1}},
       "y2": {"datum": 92300}}},
    {"data": {"name": "d"}, "transform": [{"filter": "datum.x <= 20000"}], "mark": {"type": "area", "color": "#0072BD", "stroke": "#0072BD", "strokeWidth": 1.5, "interpolate": "monotone"},
     "encoding": {
       "x": {"field": "x", "type": "quantitative", "scale": {"domain": [0, 20000], "range": [654, 1161], "nice": false}, "axis": {"orient": "top", "offset": -1247, "values": [0,10000,20000], "labels": false, "title": null, "zindex": 1}},
       "y": {"field": "hi", "type": "quantitative", "scale": {"domain": [0, 92300], "range": [1646, 1247], "nice": false}, "axis": {"orient": "right", "offset": -2810, "values": [0,20000,40000,60000,80000], "labels": false, "title": null, "zindex": 1}},
       "y2": {"field": "lo"}}},
    {"data": {"name": "d_spk"}, "transform": [{"filter": "datum.x <= 20000"}], "mark": {"type": "rule", "color": "#0072BD", "strokeWidth": 2.5},
     "encoding": {
       "x": {"field": "x", "type": "quantitative", "scale": {"domain": [0, 20000], "range": [654, 1161], "nice": false}, "axis": null},
       "y": {"field": "top", "type": "quantitative", "scale": {"domain": [0, 92300], "range": [1646, 1247], "nice": false}, "axis": null},
       "y2": {"field": "bot"}}},
    {"mark": {"type": "text", "text": "×10⁴", "font": "Liberation Serif", "fontSize": 46, "align": "right", "baseline": "middle", "dy": 110},
     "encoding": {
       "x": {"datum": 20000, "type": "quantitative", "scale": {"domain": [0, 20000], "range": [654, 1161], "nice": false}, "axis": null},
       "y": {"datum": 0, "type": "quantitative", "scale": {"domain": [0, 92300], "range": [1646, 1247], "nice": false}, "axis": null}}},
    {"mark": {"type": "text", "text": "×10⁴", "font": "Liberation Serif", "fontSize": 46, "align": "left", "baseline": "middle", "dy": -26},
     "encoding": {
       "x": {"datum": 0, "type": "quantitative", "scale": {"domain": [0, 20000], "range": [654, 1161], "nice": false}, "axis": null},
       "y": {"datum": 92300, "type": "quantitative", "scale": {"domain": [0, 92300], "range": [1646, 1247], "nice": false}, "axis": null}}},

    {"data": {"name": "e"}, "mark": {"type": "area", "color": "#0072BD", "stroke": "#0072BD", "strokeWidth": 1.5, "interpolate": "monotone"},
     "encoding": {
       "x": {"field": "x", "type": "quantitative", "scale": {"domain": [0, 159600], "range": [1536, 2571], "nice": false}, "axis": {"orient": "bottom", "offset": -1396, "values": [0,20000,40000,60000,80000,100000,120000,140000], "labelExpr": "datum.value / 10000", "title": "ω/ω₀", "titleFontStyle": "italic"}},
       "y": {"field": "hi", "type": "quantitative", "scale": {"domain": [0, 30000], "range": [1956, 1172], "nice": false, "clamp": true}, "axis": {"orient": "left", "offset": -1536, "values": [0,5000,10000,15000,20000,25000,30000], "labelExpr": "datum.value / 10000", "title": "d²I/dω dΩ"}},
       "y2": {"field": "lo"}}},
    {"mark": {"type": "rect", "fillOpacity": 0, "stroke": "#8a8a8a", "strokeWidth": 2.5},
     "encoding": {
       "x": {"datum": 0, "type": "quantitative", "scale": {"domain": [0, 159600], "range": [1536, 2571], "nice": false}, "axis": {"orient": "top", "offset": -1172, "values": [0,20000,40000,60000,80000,100000,120000,140000], "labels": false, "title": null}},
       "x2": {"datum": 159600},
       "y": {"datum": 0, "type": "quantitative", "scale": {"domain": [0, 30000], "range": [1956, 1172], "nice": false}, "axis": {"orient": "right", "offset": -1400, "values": [0,5000,10000,15000,20000,25000,30000], "labels": false, "title": null}},
       "y2": {"datum": 30000}}},
    {"mark": {"type": "text", "text": "×10⁴", "font": "Liberation Serif", "fontSize": 46, "align": "right", "baseline": "middle", "dy": 108},
     "encoding": {
       "x": {"datum": 159600, "type": "quantitative", "scale": {"domain": [0, 159600], "range": [1536, 2571], "nice": false}, "axis": null},
       "y": {"datum": 0, "type": "quantitative", "scale": {"domain": [0, 30000], "range": [1956, 1172], "nice": false}, "axis": null}}},
    {"mark": {"type": "text", "text": "×10⁴", "font": "Liberation Serif", "fontSize": 46, "align": "left", "baseline": "middle", "dy": -24},
     "encoding": {
       "x": {"datum": 0, "type": "quantitative", "scale": {"domain": [0, 159600], "range": [1536, 2571], "nice": false}, "axis": null},
       "y": {"datum": 30000, "type": "quantitative", "scale": {"domain": [0, 30000], "range": [1956, 1172], "nice": false}, "axis": null}}},
    {"mark": {"type": "text", "text": "(e)\u2002γ₀\u2002=\u200230,\u2002a₀\u2002=\u20028", "font": "DejaVu Serif", "fontSize": 57, "color": "#1a1a1a", "align": "center", "baseline": "middle", "dx": -45, "dy": 196},
     "encoding": {
       "x": {"datum": 79800, "type": "quantitative", "scale": {"domain": [0, 159600], "range": [1536, 2571], "nice": false}, "axis": null},
       "y": {"datum": 0, "type": "quantitative", "scale": {"domain": [0, 30000], "range": [1956, 1172], "nice": false}, "axis": null}}},
    {"mark": {"type": "rect", "fill": "white", "stroke": "#8a8a8a", "strokeWidth": 2.5},
     "encoding": {
       "x": {"datum": 0, "type": "quantitative", "scale": {"domain": [0, 70000], "range": [1991, 2498], "nice": false}, "axis": {"orient": "bottom", "offset": -1706, "values": [0,20000,40000,60000], "labelExpr": "datum.value / 10000", "title": null, "zindex": 1}},
       "x2": {"datum": 70000},
       "y": {"datum": 0, "type": "quantitative", "scale": {"domain": [0, 27900], "range": [1646, 1247], "nice": false}, "axis": {"orient": "left", "offset": -1991, "values": [0,10000,20000], "labelExpr": "datum.value / 10000", "title": null, "zindex": 1}},
       "y2": {"datum": 27900}}},
    {"data": {"name": "e"}, "transform": [{"filter": "datum.x <= 70000"}], "mark": {"type": "area", "color": "#0072BD", "stroke": "#0072BD", "strokeWidth": 1.5, "interpolate": "monotone"},
     "encoding": {
       "x": {"field": "x", "type": "quantitative", "scale": {"domain": [0, 70000], "range": [1991, 2498], "nice": false}, "axis": {"orient": "top", "offset": -1247, "values": [0,20000,40000,60000], "labels": false, "title": null, "zindex": 1}},
       "y": {"field": "hi", "type": "quantitative", "scale": {"domain": [0, 27900], "range": [1646, 1247], "nice": false}, "axis": {"orient": "right", "offset": -1473, "values": [0,10000,20000], "labels": false, "title": null, "zindex": 1}},
       "y2": {"field": "lo"}}},
    {"mark": {"type": "text", "text": "×10⁴", "font": "Liberation Serif", "fontSize": 46, "align": "right", "baseline": "middle", "dy": 110},
     "encoding": {
       "x": {"datum": 70000, "type": "quantitative", "scale": {"domain": [0, 70000], "range": [1991, 2498], "nice": false}, "axis": null},
       "y": {"datum": 0, "type": "quantitative", "scale": {"domain": [0, 27900], "range": [1646, 1247], "nice": false}, "axis": null}}},
    {"mark": {"type": "text", "text": "×10⁴", "font": "Liberation Serif", "fontSize": 46, "align": "left", "baseline": "middle", "dy": -26},
     "encoding": {
       "x": {"datum": 0, "type": "quantitative", "scale": {"domain": [0, 70000], "range": [1991, 2498], "nice": false}, "axis": null},
       "y": {"datum": 27900, "type": "quantitative", "scale": {"domain": [0, 27900], "range": [1646, 1247], "nice": false}, "axis": null}}},

    {"data": {"name": "f"}, "mark": {"type": "area", "color": "#0072BD", "stroke": "#0072BD", "strokeWidth": 1.5, "interpolate": "monotone"},
     "encoding": {
       "x": {"field": "x", "type": "quantitative", "scale": {"domain": [0, 160000], "range": [2875, 3910], "nice": false}, "axis": {"orient": "bottom", "offset": -1396, "values": [0,20000,40000,60000,80000,100000,120000,140000,160000], "labelExpr": "datum.value / 10000", "title": "ω/ω₀", "titleFontStyle": "italic"}},
       "y": {"field": "hi", "type": "quantitative", "scale": {"domain": [0, 50000], "range": [1956, 1172], "nice": false, "clamp": true}, "axis": {"orient": "left", "offset": -2875, "values": [0,10000,20000,30000,40000,50000], "labelExpr": "datum.value / 10000", "title": "d²I/dω dΩ"}},
       "y2": {"field": "lo"}}},
    {"mark": {"type": "rect", "fillOpacity": 0, "stroke": "#8a8a8a", "strokeWidth": 2.5},
     "encoding": {
       "x": {"datum": 0, "type": "quantitative", "scale": {"domain": [0, 160000], "range": [2875, 3910], "nice": false}, "axis": {"orient": "top", "offset": -1172, "values": [0,20000,40000,60000,80000,100000,120000,140000,160000], "labels": false, "title": null}},
       "x2": {"datum": 160000},
       "y": {"datum": 0, "type": "quantitative", "scale": {"domain": [0, 50000], "range": [1956, 1172], "nice": false}, "axis": {"orient": "right", "offset": -61, "values": [0,10000,20000,30000,40000,50000], "labels": false, "title": null}},
       "y2": {"datum": 50000}}},
    {"mark": {"type": "text", "text": "×10⁴", "font": "Liberation Serif", "fontSize": 46, "align": "right", "baseline": "middle", "dy": 108},
     "encoding": {
       "x": {"datum": 160000, "type": "quantitative", "scale": {"domain": [0, 160000], "range": [2875, 3910], "nice": false}, "axis": null},
       "y": {"datum": 0, "type": "quantitative", "scale": {"domain": [0, 50000], "range": [1956, 1172], "nice": false}, "axis": null}}},
    {"mark": {"type": "text", "text": "×10⁴", "font": "Liberation Serif", "fontSize": 46, "align": "left", "baseline": "middle", "dy": -24},
     "encoding": {
       "x": {"datum": 0, "type": "quantitative", "scale": {"domain": [0, 160000], "range": [2875, 3910], "nice": false}, "axis": null},
       "y": {"datum": 50000, "type": "quantitative", "scale": {"domain": [0, 50000], "range": [1956, 1172], "nice": false}, "axis": null}}},
    {"mark": {"type": "text", "text": "(f)\u2002γ₀\u2002=\u200230,\u2002a₀\u2002=\u200212", "font": "DejaVu Serif", "fontSize": 57, "color": "#1a1a1a", "align": "center", "baseline": "middle", "dx": -45, "dy": 196},
     "encoding": {
       "x": {"datum": 80000, "type": "quantitative", "scale": {"domain": [0, 160000], "range": [2875, 3910], "nice": false}, "axis": null},
       "y": {"datum": 0, "type": "quantitative", "scale": {"domain": [0, 50000], "range": [1956, 1172], "nice": false}, "axis": null}}},
    {"mark": {"type": "rect", "fill": "white", "stroke": "#8a8a8a", "strokeWidth": 2.5},
     "encoding": {
       "x": {"datum": 0, "type": "quantitative", "scale": {"domain": [0, 100000], "range": [3329, 3836], "nice": false}, "axis": {"orient": "bottom", "offset": -1706, "values": [0,50000,100000], "labelExpr": "datum.value / 10000", "title": null, "zindex": 1}},
       "x2": {"datum": 100000},
       "y": {"datum": 0, "type": "quantitative", "scale": {"domain": [0, 42400], "range": [1646, 1247], "nice": false}, "axis": {"orient": "left", "offset": -3329, "values": [0,10000,20000,30000,40000], "labelExpr": "datum.value / 10000", "title": null, "zindex": 1}},
       "y2": {"datum": 42400}}},
    {"data": {"name": "f"}, "transform": [{"filter": "datum.x <= 100000"}], "mark": {"type": "area", "color": "#0072BD", "stroke": "#0072BD", "strokeWidth": 1.5, "interpolate": "monotone"},
     "encoding": {
       "x": {"field": "x", "type": "quantitative", "scale": {"domain": [0, 100000], "range": [3329, 3836], "nice": false}, "axis": {"orient": "top", "offset": -1247, "values": [0,50000,100000], "labels": false, "title": null, "zindex": 1}},
       "y": {"field": "hi", "type": "quantitative", "scale": {"domain": [0, 42400], "range": [1646, 1247], "nice": false}, "axis": {"orient": "right", "offset": -135, "values": [0,10000,20000,30000,40000], "labels": false, "title": null, "zindex": 1}},
       "y2": {"field": "lo"}}},
    {"mark": {"type": "text", "text": "×10⁴", "font": "Liberation Serif", "fontSize": 46, "align": "right", "baseline": "middle", "dy": 110},
     "encoding": {
       "x": {"datum": 100000, "type": "quantitative", "scale": {"domain": [0, 100000], "range": [3329, 3836], "nice": false}, "axis": null},
       "y": {"datum": 0, "type": "quantitative", "scale": {"domain": [0, 42400], "range": [1646, 1247], "nice": false}, "axis": null}}},
    {"mark": {"type": "text", "text": "×10⁴", "font": "Liberation Serif", "fontSize": 46, "align": "left", "baseline": "middle", "dy": -26},
     "encoding": {
       "x": {"datum": 0, "type": "quantitative", "scale": {"domain": [0, 100000], "range": [3329, 3836], "nice": false}, "axis": null},
       "y": {"datum": 42400, "type": "quantitative", "scale": {"domain": [0, 42400], "range": [1646, 1247], "nice": false}, "axis": null}}},

    {"data": {"name": "g"}, "mark": {"type": "area", "color": "#0072BD", "stroke": "#0072BD", "strokeWidth": 1.5, "interpolate": "monotone"},
     "encoding": {
       "x": {"field": "x", "type": "quantitative", "scale": {"domain": [0, 160000], "range": [198, 1234], "nice": false}, "axis": {"orient": "bottom", "offset": -280, "values": [0,20000,40000,60000,80000,100000,120000,140000,160000], "labelExpr": "datum.value / 10000", "title": "ω/ω₀", "titleFontStyle": "italic"}},
       "y": {"field": "hi", "type": "quantitative", "scale": {"domain": [0, 80000], "range": [3072, 2288], "nice": false, "clamp": true}, "axis": {"orient": "left", "offset": -198, "values": [0,10000,20000,30000,40000,50000,60000,70000,80000], "labelExpr": "datum.value / 10000", "title": "d²I/dω dΩ"}},
       "y2": {"field": "lo"}}},
    {"data": {"name": "g_spk"}, "mark": {"type": "rule", "color": "#0072BD", "strokeWidth": 2.5},
     "encoding": {
       "x": {"field": "x", "type": "quantitative", "scale": {"domain": [0, 160000], "range": [198, 1234], "nice": false}, "axis": null},
       "y": {"field": "top", "type": "quantitative", "scale": {"domain": [0, 80000], "range": [3072, 2288], "nice": false, "clamp": true}, "axis": null},
       "y2": {"field": "bot"}}},
    {"mark": {"type": "rect", "fillOpacity": 0, "stroke": "#8a8a8a", "strokeWidth": 2.5},
     "encoding": {
       "x": {"datum": 0, "type": "quantitative", "scale": {"domain": [0, 160000], "range": [198, 1234], "nice": false}, "axis": {"orient": "top", "offset": -2288, "values": [0,20000,40000,60000,80000,100000,120000,140000,160000], "labels": false, "title": null}},
       "x2": {"datum": 160000},
       "y": {"datum": 0, "type": "quantitative", "scale": {"domain": [0, 80000], "range": [3072, 2288], "nice": false}, "axis": {"orient": "right", "offset": -2737, "values": [0,10000,20000,30000,40000,50000,60000,70000,80000], "labels": false, "title": null}},
       "y2": {"datum": 80000}}},
    {"mark": {"type": "text", "text": "×10⁴", "font": "Liberation Serif", "fontSize": 46, "align": "right", "baseline": "middle", "dy": 108},
     "encoding": {
       "x": {"datum": 160000, "type": "quantitative", "scale": {"domain": [0, 160000], "range": [198, 1234], "nice": false}, "axis": null},
       "y": {"datum": 0, "type": "quantitative", "scale": {"domain": [0, 80000], "range": [3072, 2288], "nice": false}, "axis": null}}},
    {"mark": {"type": "text", "text": "×10⁴", "font": "Liberation Serif", "fontSize": 46, "align": "left", "baseline": "middle", "dy": -24},
     "encoding": {
       "x": {"datum": 0, "type": "quantitative", "scale": {"domain": [0, 160000], "range": [198, 1234], "nice": false}, "axis": null},
       "y": {"datum": 80000, "type": "quantitative", "scale": {"domain": [0, 80000], "range": [3072, 2288], "nice": false}, "axis": null}}},
    {"mark": {"type": "text", "text": "(g)\u2002γ₀\u2002=\u200250,\u2002a₀\u2002=\u20024", "font": "DejaVu Serif", "fontSize": 57, "color": "#1a1a1a", "align": "center", "baseline": "middle", "dx": -45, "dy": 196},
     "encoding": {
       "x": {"datum": 80000, "type": "quantitative", "scale": {"domain": [0, 160000], "range": [198, 1234], "nice": false}, "axis": null},
       "y": {"datum": 0, "type": "quantitative", "scale": {"domain": [0, 80000], "range": [3072, 2288], "nice": false}, "axis": null}}},
    {"mark": {"type": "rect", "fill": "white", "stroke": "#8a8a8a", "strokeWidth": 2.5},
     "encoding": {
       "x": {"datum": 0, "type": "quantitative", "scale": {"domain": [0, 80000], "range": [654, 1161], "nice": false}, "axis": {"orient": "bottom", "offset": -588, "values": [0,20000,40000,60000,80000], "labelExpr": "datum.value / 10000", "title": null, "zindex": 1}},
       "x2": {"datum": 80000},
       "y": {"datum": 0, "type": "quantitative", "scale": {"domain": [0, 74400], "range": [2764, 2362], "nice": false}, "axis": {"orient": "left", "offset": -654, "values": [0,20000,40000,60000], "labelExpr": "datum.value / 10000", "title": null, "zindex": 1}},
       "y2": {"datum": 74400}}},
    {"data": {"name": "g"}, "transform": [{"filter": "datum.x <= 80000"}], "mark": {"type": "area", "color": "#0072BD", "stroke": "#0072BD", "strokeWidth": 1.5, "interpolate": "monotone"},
     "encoding": {
       "x": {"field": "x", "type": "quantitative", "scale": {"domain": [0, 80000], "range": [654, 1161], "nice": false}, "axis": {"orient": "top", "offset": -2362, "values": [0,20000,40000,60000,80000], "labels": false, "title": null, "zindex": 1}},
       "y": {"field": "hi", "type": "quantitative", "scale": {"domain": [0, 74400], "range": [2764, 2362], "nice": false}, "axis": {"orient": "right", "offset": -2810, "values": [0,20000,40000,60000], "labels": false, "title": null, "zindex": 1}},
       "y2": {"field": "lo"}}},
    {"data": {"name": "g_spk"}, "mark": {"type": "rule", "color": "#0072BD", "strokeWidth": 2.5},
     "encoding": {
       "x": {"field": "x", "type": "quantitative", "scale": {"domain": [0, 80000], "range": [654, 1161], "nice": false}, "axis": null},
       "y": {"field": "top", "type": "quantitative", "scale": {"domain": [0, 74400], "range": [2764, 2362], "nice": false}, "axis": null},
       "y2": {"field": "bot"}}},
    {"mark": {"type": "text", "text": "×10⁴", "font": "Liberation Serif", "fontSize": 46, "align": "right", "baseline": "middle", "dy": 110},
     "encoding": {
       "x": {"datum": 80000, "type": "quantitative", "scale": {"domain": [0, 80000], "range": [654, 1161], "nice": false}, "axis": null},
       "y": {"datum": 0, "type": "quantitative", "scale": {"domain": [0, 74400], "range": [2764, 2362], "nice": false}, "axis": null}}},
    {"mark": {"type": "text", "text": "×10⁴", "font": "Liberation Serif", "fontSize": 46, "align": "left", "baseline": "middle", "dy": -26},
     "encoding": {
       "x": {"datum": 0, "type": "quantitative", "scale": {"domain": [0, 80000], "range": [654, 1161], "nice": false}, "axis": null},
       "y": {"datum": 74400, "type": "quantitative", "scale": {"domain": [0, 74400], "range": [2764, 2362], "nice": false}, "axis": null}}},

    {"data": {"name": "h"}, "mark": {"type": "area", "color": "#0072BD", "stroke": "#0072BD", "strokeWidth": 1.5, "interpolate": "monotone"},
     "encoding": {
       "x": {"field": "x", "type": "quantitative", "scale": {"domain": [0, 160000], "range": [1536, 2572], "nice": false}, "axis": {"orient": "bottom", "offset": -280, "values": [0,20000,40000,60000,80000,100000,120000,140000,160000], "labelExpr": "datum.value / 10000", "title": "ω/ω₀", "titleFontStyle": "italic"}},
       "y": {"field": "hi", "type": "quantitative", "scale": {"domain": [0, 120000], "range": [3072, 2288], "nice": false, "clamp": true}, "axis": {"orient": "left", "offset": -1536, "values": [0,20000,40000,60000,80000,100000,120000], "labelExpr": "datum.value / 10000", "title": "d²I/dω dΩ"}},
       "y2": {"field": "lo"}}},
    {"data": {"name": "h_spk"}, "mark": {"type": "rule", "color": "#0072BD", "strokeWidth": 2.5},
     "encoding": {
       "x": {"field": "x", "type": "quantitative", "scale": {"domain": [0, 160000], "range": [1536, 2572], "nice": false}, "axis": null},
       "y": {"field": "top", "type": "quantitative", "scale": {"domain": [0, 120000], "range": [3072, 2288], "nice": false, "clamp": true}, "axis": null},
       "y2": {"field": "bot"}}},
    {"mark": {"type": "rect", "fillOpacity": 0, "stroke": "#8a8a8a", "strokeWidth": 2.5},
     "encoding": {
       "x": {"datum": 0, "type": "quantitative", "scale": {"domain": [0, 160000], "range": [1536, 2572], "nice": false}, "axis": {"orient": "top", "offset": -2288, "values": [0,20000,40000,60000,80000,100000,120000,140000,160000], "labels": false, "title": null}},
       "x2": {"datum": 160000},
       "y": {"datum": 0, "type": "quantitative", "scale": {"domain": [0, 120000], "range": [3072, 2288], "nice": false}, "axis": {"orient": "right", "offset": -1399, "values": [0,20000,40000,60000,80000,100000,120000], "labels": false, "title": null}},
       "y2": {"datum": 120000}}},
    {"mark": {"type": "text", "text": "×10⁴", "font": "Liberation Serif", "fontSize": 46, "align": "right", "baseline": "middle", "dy": 108},
     "encoding": {
       "x": {"datum": 160000, "type": "quantitative", "scale": {"domain": [0, 160000], "range": [1536, 2572], "nice": false}, "axis": null},
       "y": {"datum": 0, "type": "quantitative", "scale": {"domain": [0, 120000], "range": [3072, 2288], "nice": false}, "axis": null}}},
    {"mark": {"type": "text", "text": "×10⁴", "font": "Liberation Serif", "fontSize": 46, "align": "left", "baseline": "middle", "dy": -24},
     "encoding": {
       "x": {"datum": 0, "type": "quantitative", "scale": {"domain": [0, 160000], "range": [1536, 2572], "nice": false}, "axis": null},
       "y": {"datum": 120000, "type": "quantitative", "scale": {"domain": [0, 120000], "range": [3072, 2288], "nice": false}, "axis": null}}},
    {"mark": {"type": "text", "text": "(h)\u2002γ₀\u2002=\u200250,\u2002a₀\u2002=\u20028", "font": "DejaVu Serif", "fontSize": 57, "color": "#1a1a1a", "align": "center", "baseline": "middle", "dx": -45, "dy": 196},
     "encoding": {
       "x": {"datum": 80000, "type": "quantitative", "scale": {"domain": [0, 160000], "range": [1536, 2572], "nice": false}, "axis": null},
       "y": {"datum": 0, "type": "quantitative", "scale": {"domain": [0, 120000], "range": [3072, 2288], "nice": false}, "axis": null}}},
    {"mark": {"type": "rect", "fill": "white", "stroke": "#8a8a8a", "strokeWidth": 2.5},
     "encoding": {
       "x": {"datum": 0, "type": "quantitative", "scale": {"domain": [0, 130000], "range": [1991, 2499], "nice": false}, "axis": {"orient": "bottom", "offset": -588, "values": [0,50000,100000], "labelExpr": "datum.value / 10000", "title": null, "zindex": 1}},
       "x2": {"datum": 130000},
       "y": {"datum": 0, "type": "quantitative", "scale": {"domain": [0, 109000], "range": [2764, 2362], "nice": false}, "axis": {"orient": "left", "offset": -1991, "values": [0,50000,100000], "labelExpr": "datum.value / 10000", "title": null, "zindex": 1}},
       "y2": {"datum": 109000}}},
    {"data": {"name": "h"}, "transform": [{"filter": "datum.x <= 130000"}], "mark": {"type": "area", "color": "#0072BD", "stroke": "#0072BD", "strokeWidth": 1.5, "interpolate": "monotone"},
     "encoding": {
       "x": {"field": "x", "type": "quantitative", "scale": {"domain": [0, 130000], "range": [1991, 2499], "nice": false}, "axis": {"orient": "top", "offset": -2362, "values": [0,50000,100000], "labels": false, "title": null, "zindex": 1}},
       "y": {"field": "hi", "type": "quantitative", "scale": {"domain": [0, 109000], "range": [2764, 2362], "nice": false}, "axis": {"orient": "right", "offset": -1472, "values": [0,50000,100000], "labels": false, "title": null, "zindex": 1}},
       "y2": {"field": "lo"}}},
    {"data": {"name": "h_spk"}, "mark": {"type": "rule", "color": "#0072BD", "strokeWidth": 2.5},
     "encoding": {
       "x": {"field": "x", "type": "quantitative", "scale": {"domain": [0, 130000], "range": [1991, 2499], "nice": false}, "axis": null},
       "y": {"field": "top", "type": "quantitative", "scale": {"domain": [0, 109000], "range": [2764, 2362], "nice": false}, "axis": null},
       "y2": {"field": "bot"}}},
    {"mark": {"type": "text", "text": "×10⁴", "font": "Liberation Serif", "fontSize": 46, "align": "right", "baseline": "middle", "dy": 110},
     "encoding": {
       "x": {"datum": 130000, "type": "quantitative", "scale": {"domain": [0, 130000], "range": [1991, 2499], "nice": false}, "axis": null},
       "y": {"datum": 0, "type": "quantitative", "scale": {"domain": [0, 109000], "range": [2764, 2362], "nice": false}, "axis": null}}},
    {"mark": {"type": "text", "text": "×10⁴", "font": "Liberation Serif", "fontSize": 46, "align": "left", "baseline": "middle", "dy": -26},
     "encoding": {
       "x": {"datum": 0, "type": "quantitative", "scale": {"domain": [0, 130000], "range": [1991, 2499], "nice": false}, "axis": null},
       "y": {"datum": 109000, "type": "quantitative", "scale": {"domain": [0, 109000], "range": [2764, 2362], "nice": false}, "axis": null}}},

    {"data": {"name": "i"}, "mark": {"type": "area", "color": "#0072BD", "stroke": "#0072BD", "strokeWidth": 1.5, "interpolate": "monotone"},
     "encoding": {
       "x": {"field": "x", "type": "quantitative", "scale": {"domain": [0, 160000], "range": [2873, 3910], "nice": false}, "axis": {"orient": "bottom", "offset": -280, "values": [0,20000,40000,60000,80000,100000,120000,140000,160000], "labelExpr": "datum.value / 10000", "title": "ω/ω₀", "titleFontStyle": "italic"}},
       "y": {"field": "hi", "type": "quantitative", "scale": {"domain": [0, 70000], "range": [3072, 2288], "nice": false, "clamp": true}, "axis": {"orient": "left", "offset": -2873, "values": [0,10000,20000,30000,40000,50000,60000,70000], "labelExpr": "datum.value / 10000", "title": "d²I/dω dΩ"}},
       "y2": {"field": "lo"}}},
    {"mark": {"type": "rect", "fillOpacity": 0, "stroke": "#8a8a8a", "strokeWidth": 2.5},
     "encoding": {
       "x": {"datum": 0, "type": "quantitative", "scale": {"domain": [0, 160000], "range": [2873, 3910], "nice": false}, "axis": {"orient": "top", "offset": -2288, "values": [0,20000,40000,60000,80000,100000,120000,140000,160000], "labels": false, "title": null}},
       "x2": {"datum": 160000},
       "y": {"datum": 0, "type": "quantitative", "scale": {"domain": [0, 70000], "range": [3072, 2288], "nice": false}, "axis": {"orient": "right", "offset": -61, "values": [0,10000,20000,30000,40000,50000,60000,70000], "labels": false, "title": null}},
       "y2": {"datum": 70000}}},
    {"mark": {"type": "text", "text": "×10⁴", "font": "Liberation Serif", "fontSize": 46, "align": "right", "baseline": "middle", "dy": 108},
     "encoding": {
       "x": {"datum": 160000, "type": "quantitative", "scale": {"domain": [0, 160000], "range": [2873, 3910], "nice": false}, "axis": null},
       "y": {"datum": 0, "type": "quantitative", "scale": {"domain": [0, 70000], "range": [3072, 2288], "nice": false}, "axis": null}}},
    {"mark": {"type": "text", "text": "×10⁴", "font": "Liberation Serif", "fontSize": 46, "align": "left", "baseline": "middle", "dy": -24},
     "encoding": {
       "x": {"datum": 0, "type": "quantitative", "scale": {"domain": [0, 160000], "range": [2873, 3910], "nice": false}, "axis": null},
       "y": {"datum": 70000, "type": "quantitative", "scale": {"domain": [0, 70000], "range": [3072, 2288], "nice": false}, "axis": null}}},
    {"mark": {"type": "text", "text": "(i)\u2002γ₀\u2002=\u200250,\u2002a₀\u2002=\u200212", "font": "DejaVu Serif", "fontSize": 57, "color": "#1a1a1a", "align": "center", "baseline": "middle", "dx": -45, "dy": 196},
     "encoding": {
       "x": {"datum": 80000, "type": "quantitative", "scale": {"domain": [0, 160000], "range": [2873, 3910], "nice": false}, "axis": null},
       "y": {"datum": 0, "type": "quantitative", "scale": {"domain": [0, 70000], "range": [3072, 2288], "nice": false}, "axis": null}}},
    {"mark": {"type": "rect", "fill": "white", "stroke": "#8a8a8a", "strokeWidth": 2.5},
     "encoding": {
       "x": {"datum": 0, "type": "quantitative", "scale": {"domain": [0, 160000], "range": [3329, 3836], "nice": false}, "axis": {"orient": "bottom", "offset": -588, "values": [0,50000,100000,150000], "labelExpr": "datum.value / 10000", "title": null, "zindex": 1}},
       "x2": {"datum": 160000},
       "y": {"datum": 0, "type": "quantitative", "scale": {"domain": [0, 66200], "range": [2764, 2362], "nice": false}, "axis": {"orient": "left", "offset": -3329, "values": [0,20000,40000,60000], "labelExpr": "datum.value / 10000", "title": null, "zindex": 1}},
       "y2": {"datum": 66200}}},
    {"data": {"name": "i"}, "mark": {"type": "area", "color": "#0072BD", "stroke": "#0072BD", "strokeWidth": 1.5, "interpolate": "monotone"},
     "encoding": {
       "x": {"field": "x", "type": "quantitative", "scale": {"domain": [0, 160000], "range": [3329, 3836], "nice": false}, "axis": {"orient": "top", "offset": -2362, "values": [0,50000,100000,150000], "labels": false, "title": null, "zindex": 1}},
       "y": {"field": "hi", "type": "quantitative", "scale": {"domain": [0, 66200], "range": [2764, 2362], "nice": false}, "axis": {"orient": "right", "offset": -135, "values": [0,20000,40000,60000], "labels": false, "title": null, "zindex": 1}},
       "y2": {"field": "lo"}}},
    {"mark": {"type": "text", "text": "×10⁴", "font": "Liberation Serif", "fontSize": 46, "align": "right", "baseline": "middle", "dy": 110},
     "encoding": {
       "x": {"datum": 160000, "type": "quantitative", "scale": {"domain": [0, 160000], "range": [3329, 3836], "nice": false}, "axis": null},
       "y": {"datum": 0, "type": "quantitative", "scale": {"domain": [0, 66200], "range": [2764, 2362], "nice": false}, "axis": null}}},
    {"mark": {"type": "text", "text": "×10⁴", "font": "Liberation Serif", "fontSize": 46, "align": "left", "baseline": "middle", "dy": -26},
     "encoding": {
       "x": {"datum": 0, "type": "quantitative", "scale": {"domain": [0, 160000], "range": [3329, 3836], "nice": false}, "axis": null},
       "y": {"datum": 66200, "type": "quantitative", "scale": {"domain": [0, 66200], "range": [2764, 2362], "nice": false}, "axis": null}}}
  ]
}
